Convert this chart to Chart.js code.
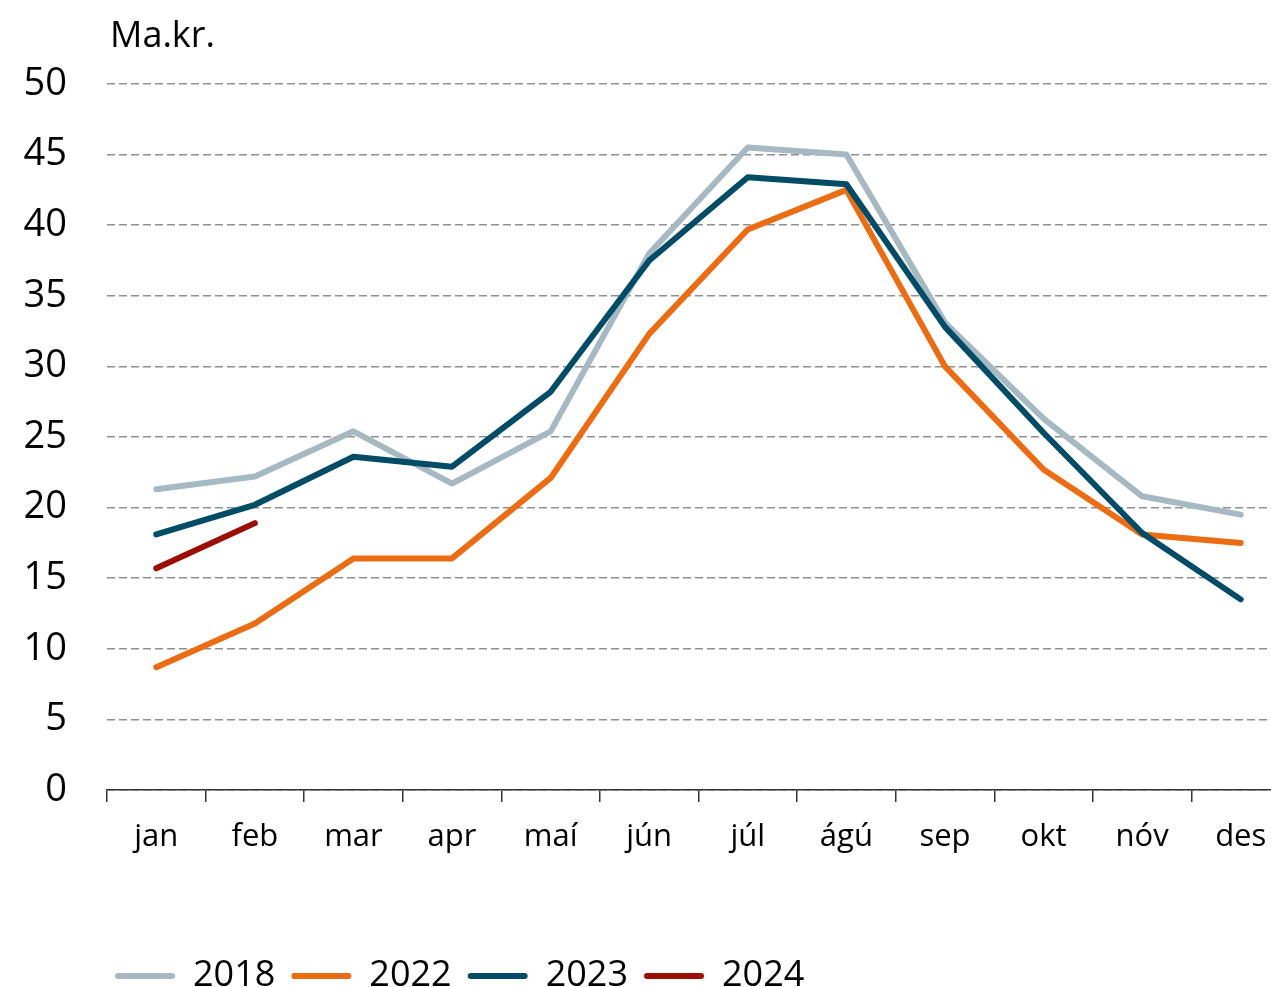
<!DOCTYPE html>
<html>
<head>
<meta charset="utf-8">
<script src="https://cdn.jsdelivr.net/npm/chart.js@4.4.1/dist/chart.umd.min.js"></script>
<style>
  html, body { margin: 0; padding: 0; background: #fff; overflow: hidden; }
  #wrap { position: relative; width: 1290px; height: 1004px; }
</style>
</head>
<body>
<div id="wrap"><canvas id="c" width="1290" height="1004"></canvas></div>
<script>
const months = ['jan','feb','mar','apr','maí','jún','júl','ágú','sep','okt','nóv','des'];
const y2018 = [21.3, 22.2, 25.4, 21.7, 25.4, 38.0, 45.5, 45.0, 33.1, 26.3, 20.8, 19.5];
const y2022 = [8.7, 11.8, 16.4, 16.4, 22.1, 32.3, 39.7, 42.5, 30.0, 22.7, 18.1, 17.5];
const y2023 = [18.1, 20.2, 23.6, 22.9, 28.2, 37.5, 43.4, 42.9, 32.8, 25.3, 18.2, 13.5];
const y2024 = [15.7, 18.9];
const yTicks = [0, 5, 10, 15, 20, 25, 30, 35, 40, 45, 50];
const unitLabel = 'Ma.kr.';

const FONT = "'Open Sans', 'Noto Sans', sans-serif";

const unitPlugin = {
  id: 'unitLabel',
  afterLayout(chart) {
    if (chart.legend) {
      const pad = chart.legend.options.labels.padding;
      chart.legend.left = 115 - pad;
    }
  },
  afterDraw(chart) {
    const ctx = chart.ctx;
    ctx.save();
    ctx.font = '36px ' + FONT;
    ctx.fillStyle = '#000';
    ctx.textAlign = 'left';
    ctx.textBaseline = 'middle';
    ctx.fillText(unitLabel, chart.chartArea.left + 3, 37);
    ctx.restore();
  }
};

function ds(label, data, color, order) {
  return {
    label, data,
    borderColor: color,
    backgroundColor: color,
    borderWidth: 6,
    pointRadius: 0,
    tension: 0,
    borderCapStyle: 'round',
    borderJoinStyle: 'round',
    order
  };
}

new Chart(document.getElementById('c'), {
  type: 'line',
  data: {
    labels: months,
    datasets: [
      ds('2018', y2018, '#A6B9C3', 4),
      ds('2022', y2022, '#EC6C14', 3),
      ds('2023', y2023, '#004B66', 2),
      ds('2024', y2024, '#9B0E06', 1)
    ]
  },
  options: {
    responsive: false,
    animation: false,
    devicePixelRatio: 1,
    layout: { padding: { top: 84, right: 0, bottom: 0, left: 0 } },
    scales: {
      x: {
        offset: true,
        afterFit(scale) { scale.height = 152; },
        grid: { offset: true, drawOnChartArea: false, drawTicks: true, tickLength: 12, color: '#333', lineWidth: 1.5 },
        border: { display: true, color: '#333', width: 1.5 },
        ticks: { font: { family: FONT, size: 31 }, color: '#000', padding: 17, maxRotation: 0, autoSkip: false }
      },
      y: {
        min: 0, max: 50,
        afterBuildTicks(scale) { scale.ticks = yTicks.map(v => ({ value: v })); },
        afterFit(scale) { scale.width = 107; },
        grid: { drawTicks: false, color: '#8f8f8f', lineWidth: 1.5 },
        border: { display: false, dash: [8, 4] },
        ticks: { font: { family: FONT, size: 38 }, color: '#000', padding: 40 }
      }
    },
    plugins: {
      legend: {
        position: 'bottom',
        align: 'start',
        fullSize: false,
        labels: {
          font: { family: FONT, size: 36 },
          color: '#000',
          boxWidth: 60,
          boxHeight: 6,
          padding: 16,
          generateLabels(chart) {
            return chart.data.datasets.map((d, i) => ({
              text: d.label,
              fillStyle: d.borderColor,
              strokeStyle: d.borderColor,
              lineWidth: 0,
              borderRadius: 3,
              hidden: false,
              datasetIndex: i
            }));
          }
        }
      },
      tooltip: { enabled: false }
    }
  },
  plugins: [unitPlugin]
});
</script>
</body>
</html>
